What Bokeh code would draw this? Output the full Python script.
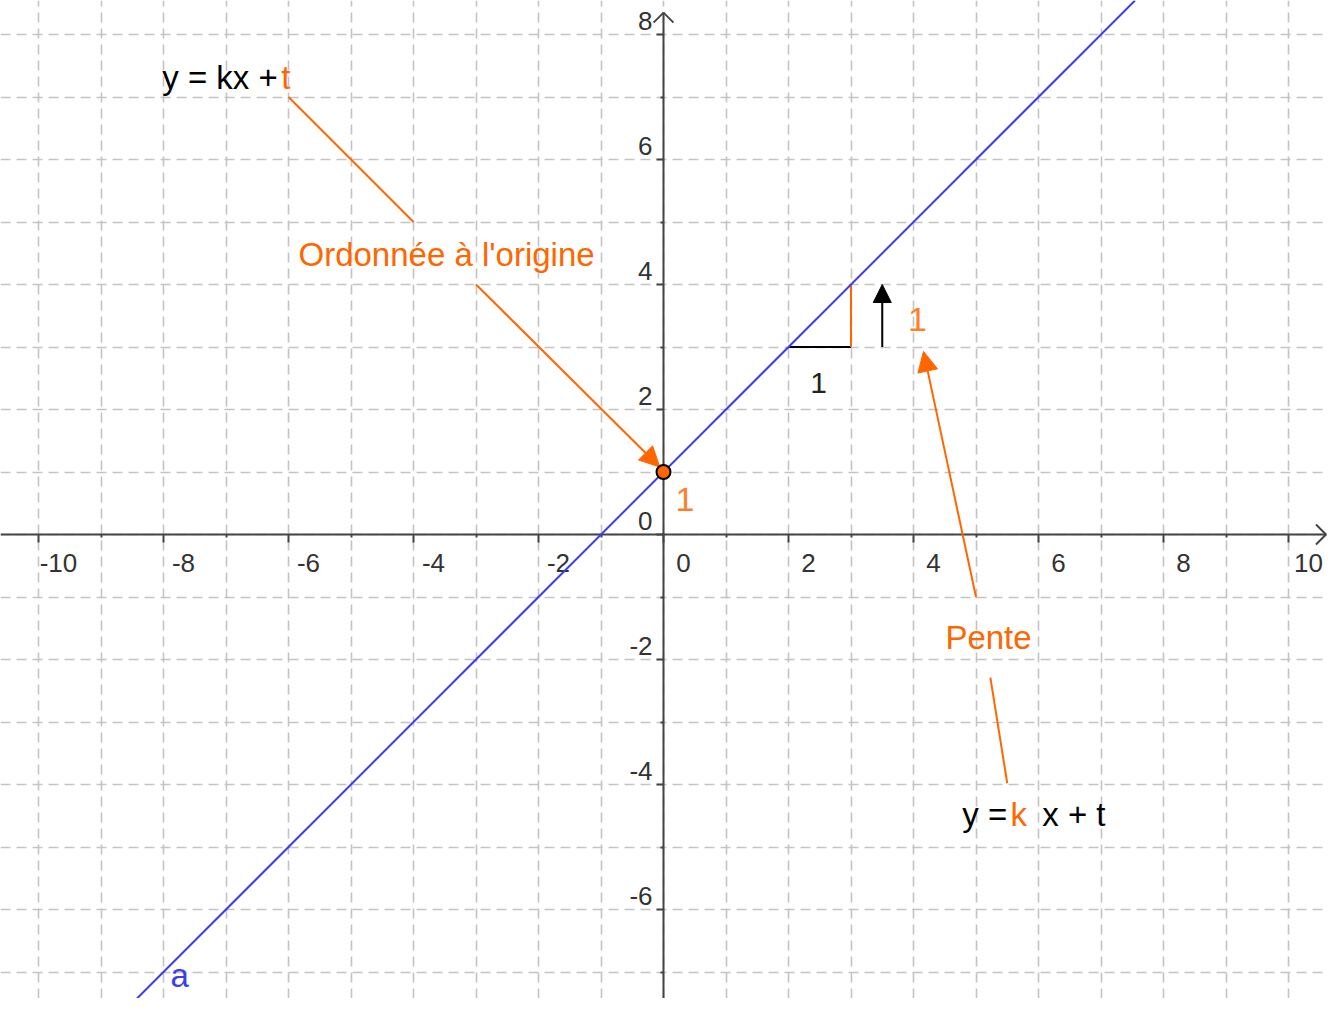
from bokeh.plotting import figure
from bokeh.models import LinearAxis, Grid, FixedTicker, Slope, Arrow, NormalHead, Range1d
from bokeh.core.properties import value
from bokeh.embed import file_html
from bokeh.resources import INLINE

# ---- data ----
k = 1          # slope (pente)
t = 1          # intercept (ordonnée à l'origine)
x_major = [-10, -8, -6, -4, -2, 0, 2, 4, 6, 8, 10]
x_minor = [-9, -7, -5, -3, -1, 1, 3, 5, 7, 9]
x_labels = ["-10", "-8", "-6", "-4", "-2", "0", "2", "4", "6", "8", "10"]
y_major = [-6, -4, -2, 0, 2, 4, 6, 8]
y_minor = [-7, -5, -3, -1, 1, 3, 5, 7]
y_labels = ["-6", "-4", "-2", "0", "2", "4", "6", "8"]
grid_x = list(range(-11, 12))
grid_y = list(range(-8, 9))
run_x0 = 2     # slope triangle start

ORANGE = "#ff6600"
BLUE = "#3c3cf0"
AXIS = "#444444"
FONT = value("Liberation Sans")

X0, X1 = -10.608, 10.64
Y0, Y1 = -7.424, 8.544

p = figure(width=1328, height=998,
           x_range=Range1d(X0, X1), y_range=Range1d(Y0, Y1),
           x_axis_type=None, y_axis_type=None,
           toolbar_location=None, output_backend="svg", min_border=0)
p.outline_line_color = None
p.background_fill_color = "white"


def label(x, y, txt, size, color, align="left"):
    p.text(x=x, y=y, text=txt, text_font=FONT, text_font_size=f"{size}px",
           text_color=color, text_align=align, text_baseline="alphabetic",
           y_offset=-round(0.38 * size))


# grid
p.add_layout(Grid(dimension=0, ticker=FixedTicker(ticks=grid_x),
                  grid_line_color="#c4c4c4", grid_line_dash="10 6", grid_line_width=1.6))
p.add_layout(Grid(dimension=1, ticker=FixedTicker(ticks=grid_y),
                  grid_line_color="#c4c4c4", grid_line_dash="10 6", grid_line_width=1.6))

# axes through the origin
x_tip = 10.6
y_tip = 8.35
xaxis = LinearAxis(fixed_location=0, ticker=FixedTicker(ticks=x_major, minor_ticks=x_minor),
                   bounds=(X0, x_tip),
                   axis_line_color=AXIS, axis_line_width=2,
                   major_tick_in=0, major_tick_out=8, major_tick_line_width=2, major_tick_line_color=AXIS,
                   minor_tick_in=0, minor_tick_out=3, minor_tick_line_width=2, minor_tick_line_color=AXIS,
                   major_label_overrides={v: "" for v in x_major})
yaxis = LinearAxis(fixed_location=0, ticker=FixedTicker(ticks=y_major, minor_ticks=y_minor),
                   bounds=(Y0, y_tip),
                   axis_line_color=AXIS, axis_line_width=2,
                   major_tick_in=0, major_tick_out=7, major_tick_line_width=2, major_tick_line_color=AXIS,
                   minor_tick_in=0, minor_tick_out=3, minor_tick_line_width=2, minor_tick_line_color=AXIS,
                   major_label_overrides={v: "" for v in y_major})
p.add_layout(xaxis, "below")
p.add_layout(yaxis, "left")

# axis arrow heads (open)
p.segment(x0=[x_tip, x_tip], y0=[0, 0], x1=[x_tip - 0.16, x_tip - 0.16], y1=[0.16, -0.16],
          line_color=AXIS, line_width=2)
p.segment(x0=[0, 0], y0=[y_tip, y_tip], x1=[-0.16, 0.16], y1=[y_tip - 0.16, y_tip - 0.16],
          line_color=AXIS, line_width=2)

# tick labels
p.text(x=x_major, y=[0] * len(x_major), text=x_labels, x_offset=20, y_offset=38 - 10,
       text_align="center", text_baseline="alphabetic", text_font=FONT,
       text_font_size="26px", text_color="#333333")
p.text(x=[0] * len(y_major), y=y_major, text=y_labels, x_offset=-11, y_offset=-4 - 10,
       text_align="right", text_baseline="alphabetic", text_font=FONT,
       text_font_size="26px", text_color="#333333")

# the line y = kx + t
p.add_layout(Slope(gradient=k, y_intercept=t, line_color=BLUE, line_width=2))
label([-7.89], [-7.26], ["a"], 33, BLUE)

# slope triangle
p.segment(x0=[run_x0], y0=[k * run_x0 + t], x1=[run_x0 + 1], y1=[k * run_x0 + t],
          line_color="black", line_width=2)
p.segment(x0=[run_x0 + 1], y0=[k * run_x0 + t], x1=[run_x0 + 1], y1=[k * (run_x0 + 1) + t],
          line_color=ORANGE, line_width=2)
p.add_layout(Arrow(x_start=3.5, y_start=3, x_end=3.5, y_end=4, line_color="black", line_width=2,
                   end=NormalHead(size=18, fill_color="black", line_color="black")))
label([2.48], [2.256], ["1"], 30, "#222222", "center")
label([4.064], [3.232], ["1"], 34, "#ff7f2a", "center")

# intercept annotation
p.segment(x0=[-6], y0=[7], x1=[-4], y1=[5], line_color=ORANGE, line_width=2)
p.add_layout(Arrow(x_start=-3, y_start=4, x_end=-0.06, y_end=1.08, line_color=ORANGE, line_width=2,
                   end=NormalHead(size=20, fill_color=ORANGE, line_color=ORANGE)))
label([-8.02], [7.1], ["y = kx +"], 33, "black")
label([-5.97], [7.1], ["t"], 33, ORANGE, "right")
label([-5.84], [4.27], ["Ordonnée à l'origine"], 33, ORANGE)

# point (0, t)
pt = p.scatter(x=[0], y=[t], size=14, fill_color=ORANGE, line_color="black", line_width=2)
pt.level = "overlay"
label([0.344], [0.352], ["1"], 34, "#ff7f2a", "center")

# slope annotation
p.add_layout(Arrow(x_start=5.0, y_start=-1.0, x_end=4.16, y_end=2.93, line_color=ORANGE, line_width=2,
                   end=NormalHead(size=20, fill_color=ORANGE, line_color=ORANGE)))
p.segment(x0=[5.23], y0=[-2.29], x1=[5.5], y1=[-3.98], line_color=ORANGE, line_width=2)
label([4.51], [-1.856], ["Pente"], 33, ORANGE)
label([4.78], [-4.69], ["y ="], 33, "black")
label([5.55], [-4.69], ["k"], 33, ORANGE)
label([6.06], [-4.69], ["x + t"], 33, "black")

open("out.html", "w").write(file_html(p, INLINE))
